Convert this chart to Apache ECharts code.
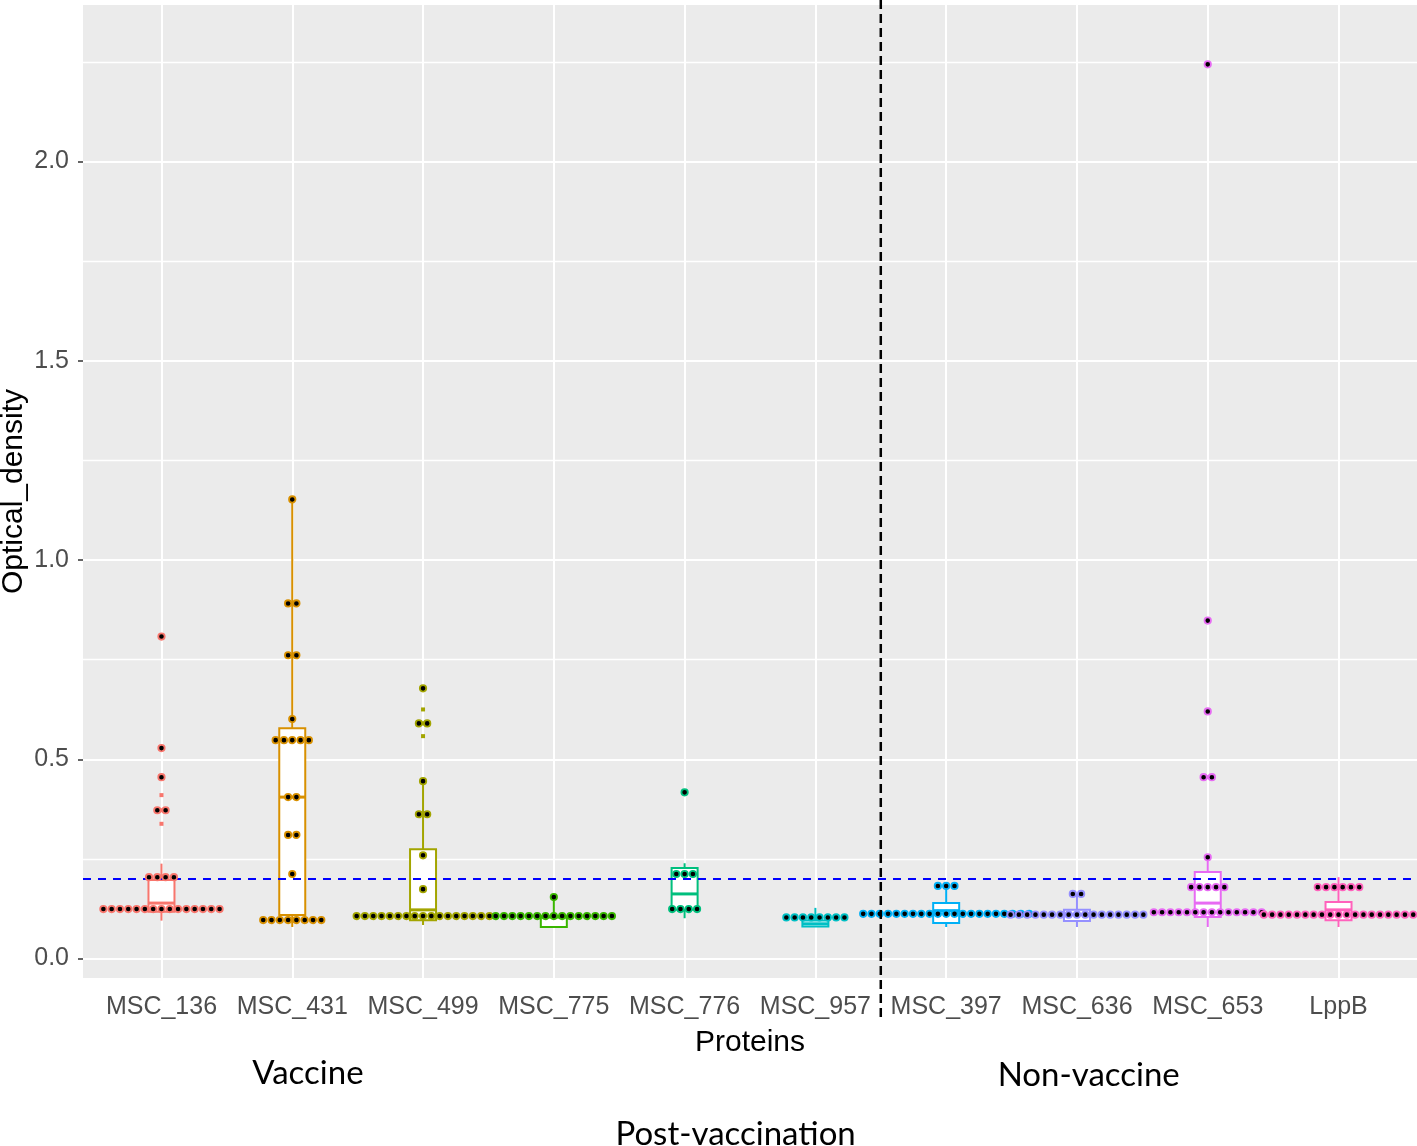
<!DOCTYPE html>
<html>
<head>
<meta charset="utf-8">
<script src="https://cdn.jsdelivr.net/npm/echarts@6/dist/echarts.min.js"></script>
<style>
  html, body { margin: 0; padding: 0; background: #fff; }
  #chart { width: 1417px; height: 1146px; }
</style>
</head>
<body>
<div id="chart"></div>
<script>
// categories and ggplot hue colours
const categories = ["MSC_136", "MSC_431", "MSC_499", "MSC_775", "MSC_776", "MSC_957", "MSC_397", "MSC_636", "MSC_653", "LppB"];
const colors = ["#F8766D", "#D89000", "#A3A500", "#39B600", "#00BF7D", "#00BFC4", "#00B0F6", "#9590FF", "#E76BF3", "#FF62BC"];

// box stats: [min, Q1, median, Q3, max]
const boxStats = [
  [0.095, 0.117, 0.139, 0.197, 0.238],
  [0.079, 0.109, 0.405, 0.578, 1.152],
  [0.084, 0.096, 0.122, 0.274, 0.445],
  [0.079, 0.079, 0.104, 0.106, 0.154],
  [0.101, 0.122, 0.162, 0.227, 0.239],
  [0.079, 0.080, 0.087, 0.095, 0.127],
  [0.079, 0.089, 0.120, 0.139, 0.182],
  [0.079, 0.094, 0.110, 0.122, 0.162],
  [0.079, 0.104, 0.139, 0.217, 0.254],
  [0.079, 0.096, 0.122, 0.142, 0.204]
];

// boxplot outliers
const outliers = [
  [0.808, 0.528, 0.455, 0.41, 0.372, 0.338],
  [],
  [0.678, 0.625, 0.59, 0.558],
  [],
  [0.417],
  [],
  [],
  [],
  [2.244, 0.848, 0.62, 0.455],
  []
];

// dotplot bins (value) and how many dots are stacked in each
const dotLevels = [
  [0.124, 0.204, 0.372, 0.455, 0.528, 0.808],
  [0.0965, 0.212, 0.31, 0.405, 0.548, 0.601, 0.761, 0.891, 1.152],
  [0.1065, 0.174, 0.259, 0.362, 0.445, 0.59, 0.678],
  [0.1065, 0.154],
  [0.124, 0.212, 0.417],
  [0.103],
  [0.112, 0.182],
  [0.11, 0.162],
  [0.116, 0.179, 0.254, 0.455, 0.62, 0.848, 2.244],
  [0.11, 0.179]
];
const dotCounts = [
  [15, 4, 2, 1, 1, 1],
  [8, 1, 2, 2, 5, 1, 2, 2, 1],
  [17, 1, 1, 2, 1, 2, 1],
  [15, 1],
  [4, 3, 1],
  [8],
  [21, 3],
  [17, 2],
  [14, 5, 1, 2, 1, 1, 1],
  [19, 6]
];

const yTicks = [0, 0.5, 1, 1.5, 2];
const yMinor = [0.25, 0.75, 1.25, 1.75, 2.25];
const cutoff = 0.204;

const xPos = categories.map((c, i) => i + 1);

const boxData = boxStats.map((s, i) => [i + 1].concat(s));
const outlierData = [];
outliers.forEach((arr, i) => arr.forEach(v => outlierData.push([i + 1, v])));
const dotData = [];
dotLevels.forEach((arr, i) => arr.forEach((v, k) => dotData.push([i + 1, v, dotCounts[i][k]])));

const chart = echarts.init(document.getElementById("chart"));

const gridLines = yTicks.map(v => ({ yAxis: v, lineStyle: { width: 2 } }))
  .concat(yMinor.map(v => ({ yAxis: v, lineStyle: { width: 1.3 } })))
  .concat(xPos.map(v => ({ xAxis: v, lineStyle: { width: 2 } })));

chart.setOption({
  animation: false,
  grid: {
    left: 83, top: 5, right: 0, bottom: 168,
    outerBoundsMode: "none",
    containLabel: false,
    show: true, backgroundColor: "#EBEBEB", borderWidth: 0
  },
  xAxis: {
    type: "value",
    min: 0.4,
    max: 10.6,
    name: "Proteins",
    nameLocation: "middle",
    nameGap: 50,
    nameMoveOverlap: false,
    nameTextStyle: { color: "#000", fontSize: 30, fontFamily: "Liberation Sans" },
    axisLine: { show: false },
    splitLine: { show: false },
    axisTick: { show: true, customValues: xPos, length: 5, lineStyle: { color: "#333", width: 1.5 } },
    axisLabel: {
      customValues: xPos,
      formatter: v => categories[Math.round(v) - 1],
      color: "#4D4D4D", fontSize: 25, fontFamily: "Liberation Sans", margin: 17
    }
  },
  yAxis: {
    type: "value",
    min: -0.049,
    max: 2.393,
    name: "Optical_density",
    nameLocation: "middle",
    nameGap: 54,
    nameMoveOverlap: false,
    nameTextStyle: { color: "#000", fontSize: 30, fontFamily: "Liberation Sans" },
    axisLine: { show: false },
    splitLine: { show: false },
    axisTick: { show: true, customValues: yTicks, length: 5, lineStyle: { color: "#333", width: 1.5 } },
    axisLabel: {
      customValues: yTicks,
      formatter: v => v.toFixed(1),
      color: "#4D4D4D", fontSize: 25, fontFamily: "Liberation Sans", margin: 14
    }
  },
  series: [
    {
      // white panel grid
      type: "scatter",
      data: [],
      z: 1,
      silent: true,
      markLine: {
        z: 1,
        silent: true,
        symbol: "none",
        label: { show: false },
        lineStyle: { color: "#fff", type: "solid" },
        data: gridLines
      }
    },
    {
      type: "custom",
      z: 2,
      data: boxData,
      encode: { x: 0, y: [1, 2, 3, 4, 5] },
      renderItem(params, api) {
        const i = api.value(0);
        const c = colors[i - 1];
        const pMin = api.coord([i, api.value(1)]);
        const pQ1 = api.coord([i, api.value(2)]);
        const pMed = api.coord([i, api.value(3)]);
        const pQ3 = api.coord([i, api.value(4)]);
        const pMax = api.coord([i, api.value(5)]);
        const hw = 13;
        const x = pMed[0];
        return {
          type: "group",
          children: [
            { type: "line", shape: { x1: x, y1: pMin[1], x2: x, y2: pQ1[1] }, style: { stroke: c, lineWidth: 2 } },
            { type: "line", shape: { x1: x, y1: pQ3[1], x2: x, y2: pMax[1] }, style: { stroke: c, lineWidth: 2 } },
            { type: "rect", shape: { x: x - hw, y: pQ3[1], width: 2 * hw, height: pQ1[1] - pQ3[1] }, style: { fill: "#fff", stroke: c, lineWidth: 2 } },
            { type: "line", shape: { x1: x - hw, y1: pMed[1], x2: x + hw, y2: pMed[1] }, style: { stroke: c, lineWidth: 3 } }
          ]
        };
      }
    },
    {
      type: "scatter",
      z: 3,
      data: outlierData,
      symbol: "rect",
      symbolSize: 4,
      itemStyle: { color: p => colors[p.value[0] - 1], opacity: 1 },
      silent: true
    },
    {
      // cutoff line
      type: "scatter",
      data: [],
      z: 4,
      markLine: {
        z: 4,
        silent: true,
        symbol: "none",
        label: { show: false },
        lineStyle: { color: "#0000FF", type: [8, 7], width: 2 },
        data: [{ yAxis: cutoff }]
      }
    },
    {
      type: "custom",
      z: 5,
      data: dotData,
      encode: { x: 0, y: 1 },
      renderItem(params, api) {
        const i = api.value(0);
        const n = api.value(2);
        const p = api.coord([i, api.value(1)]);
        const step = 8.3;
        const children = [];
        for (let k = 0; k < n; k++) {
          children.push({
            type: "circle",
            shape: { cx: p[0] + (k - (n - 1) / 2) * step, cy: p[1], r: 3.2 },
            style: { fill: "#000", stroke: colors[i - 1], lineWidth: 1.8 }
          });
        }
        return { type: "group", children };
      }
    }
  ]
});

// annotations: divider between vaccine / non-vaccine groups and the group labels
const divX = chart.convertToPixel({ xAxisIndex: 0 }, 6.5);
const labelFont = "33px Lato";
chart.setOption({
  graphic: [
    {
      type: "line", z: 100,
      shape: { x1: divX, y1: 0, x2: divX, y2: 1022 },
      style: { stroke: "#000", lineWidth: 2.5, lineDash: [9, 5] }
    },
    { type: "text", x: chart.convertToPixel({ xAxisIndex: 0 }, 2.12), y: 1073, style: { text: "Vaccine", font: labelFont, fill: "#000", align: "center", verticalAlign: "middle" } },
    { type: "text", x: chart.convertToPixel({ xAxisIndex: 0 }, 8.09), y: 1075, style: { text: "Non-vaccine", font: labelFont, fill: "#000", align: "center", verticalAlign: "middle" } },
    { type: "text", x: chart.convertToPixel({ xAxisIndex: 0 }, 5.39), y: 1134, style: { text: "Post-vaccination", font: labelFont, fill: "#000", align: "center", verticalAlign: "middle" } }
  ]
});
</script>
</body>
</html>
